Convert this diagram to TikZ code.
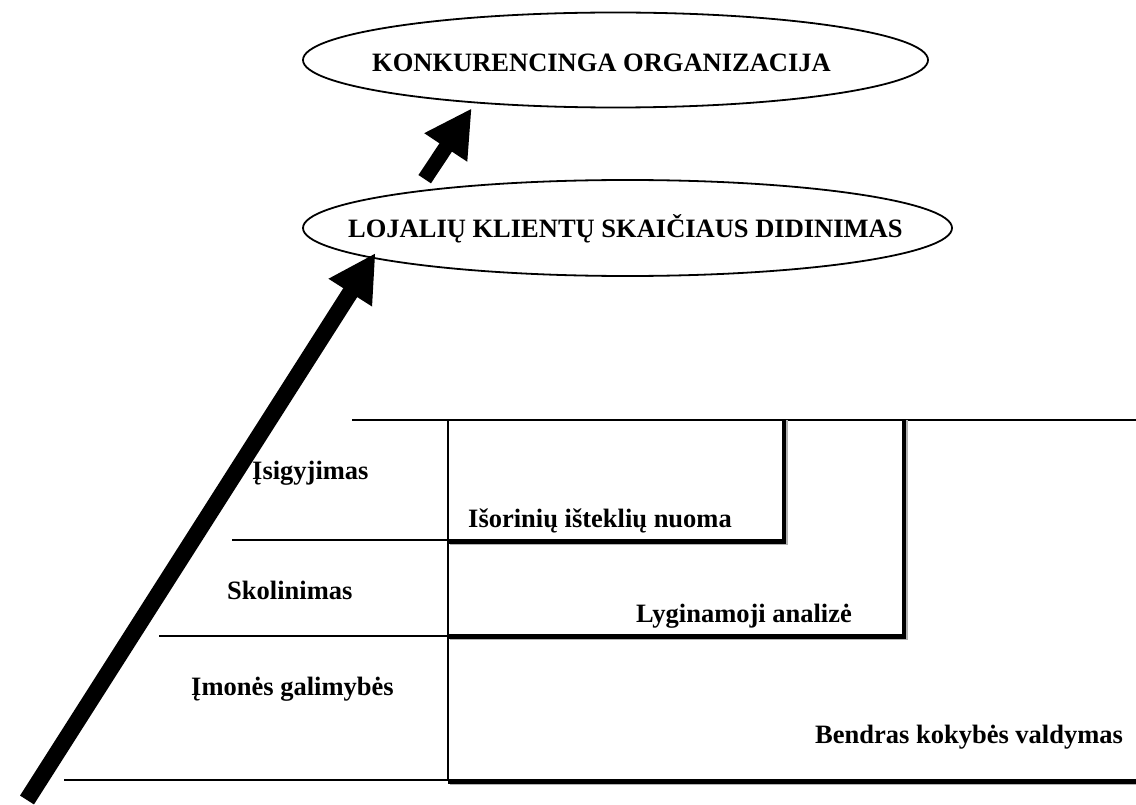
\documentclass[tikz,border=0pt]{standalone}
\usepackage{fontspec}
\setmainfont{Liberation Serif}[BoldFont={Liberation Serif Bold}]
\newfontfamily\lblfont{Liberation Serif Bold}
\usetikzlibrary{arrows.meta,shapes.geometric}
\begin{document}
\begin{tikzpicture}[x=1pt,y=-1pt,
  oval/.style={draw, ellipse, line width=1.8pt, inner sep=0pt, fill=white},
  lbl/.style={anchor=base west, inner sep=0pt, font=\lblfont\fontsize{26.5}{30}\selectfont},
  thinln/.style={line width=2pt},
  thickln/.style={line width=4.5pt, line join=miter},
  shadowln/.style={line width=4.5pt, line join=miter, draw=black!30},
  blockarrow/.style={line width=15pt, -{Triangle[length=47pt,width=48pt]}}
]
\useasboundingbox (0,0) rectangle (1136,805);

% ellipses
\node[oval, minimum width=625pt, minimum height=95pt] (e1) at (615.5,60) {};
\node[oval, minimum width=649pt, minimum height=96pt] (e2) at (627.5,228) {};
\node[lbl] (t1) at (372,72) {KONKURENCINGA ORGANIZACIJA};
\node[lbl] (t2) at (348,238) {LOJALIŲ KLIENTŲ SKAIČIAUS DIDINIMAS};

% thin grid lines
\draw[thinln] (352,420) -- (1136,420);
\draw[thinln] (448,420) -- (448,780);
\draw[thinln] (232,540) -- (448,540);
\draw[thinln] (159,636) -- (448,636);
\draw[thinln] (64,780) -- (448,780);

% thick stepped lines (with light shadow)
\draw[shadowln] (785.5,420) -- (785.5,543) -- (449.5,543);
\draw[shadowln] (905.5,420) -- (905.5,638) -- (449.5,638);
\draw[shadowln] (449.5,783) -- (1136,783);
\draw[thickln] (784,420) -- (784,541.5) -- (448,541.5);
\draw[thickln] (904,420) -- (904,636.5) -- (448,636.5);
\draw[thickln] (448,781.5) -- (1136,781.5);

% labels
\node[lbl] (l1) at (252,479) {Įsigyjimas};
\node[lbl] (l2) at (227,599) {Skolinimas};
\node[lbl] (l3) at (191,695) {Įmonės galimybės};
\node[lbl] (r1) at (468,527) {Išorinių išteklių nuoma};
\node[lbl] (r2) at (636,622) {Lyginamoji analizė};
\node[lbl] (r3) at (815,743) {Bendras kokybės valdymas};

% block arrows
\coordinate (a1s) at (424.7,179.2);
\coordinate (a1e) at (471.7,108.3);
\coordinate (a2s) at (27,800);
\coordinate (a2e) at (375.5,253);
\draw[blockarrow] (a1s) -- (a1e);
\draw[blockarrow, line width=16.5pt] (a2s) -- (a2e);
\end{tikzpicture}
\end{document}
